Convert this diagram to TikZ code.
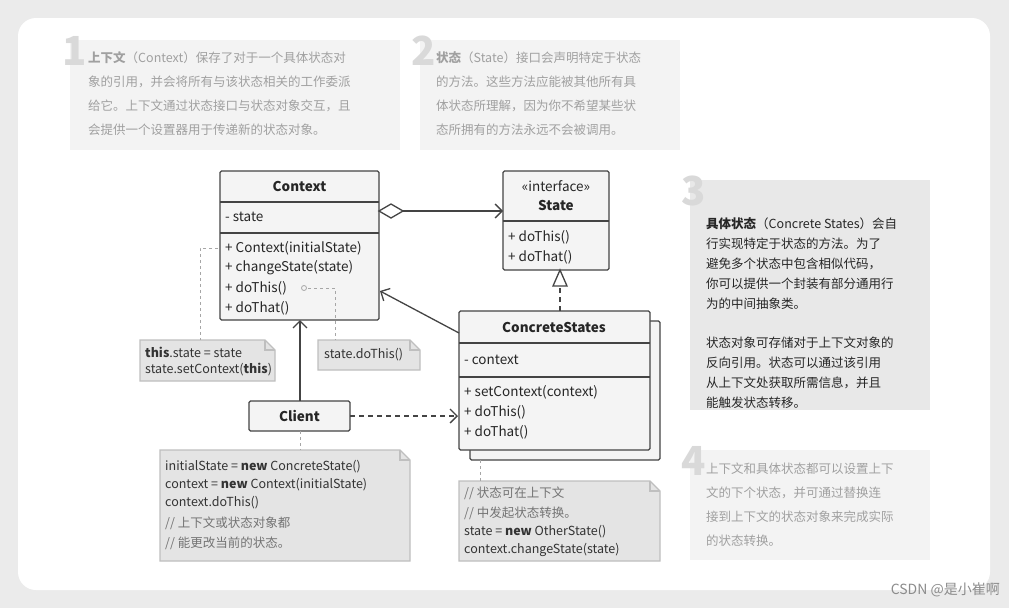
\documentclass[tikz,border=0pt]{standalone}
\usepackage{fontspec}
\setmainfont{Noto Sans CJK SC}
\usetikzlibrary{arrows.meta}
\definecolor{ln}{HTML}{444444}
\definecolor{boxf}{HTML}{F4F4F4}
\definecolor{notef}{HTML}{E4E4E4}
\definecolor{pan}{HTML}{F3F3F3}
\definecolor{pan3}{HTML}{E8E8E8}
\definecolor{gtx}{HTML}{A0A0A0}
\tikzset{
 umlbox/.style={draw=ln,line width=1.3pt,fill=boxf,rounded corners=1.5pt},
 sep/.style={draw=ln,line width=1.3pt},
 txt/.style={anchor=west,inner sep=0pt,font=\fontsize{13.5}{15}\selectfont,text=black!85},
 ttl/.style={anchor=center,inner sep=0pt,font=\fontsize{13.5}{15}\selectfont\bfseries,text=black!85},
 ptxt/.style={anchor=north west,inner sep=0pt,align=left,font=\fontsize{12.5}{24}\selectfont},
 num/.style={anchor=north west,inner sep=0pt,font=\fontsize{40}{40}\selectfont\bfseries,text=black!15},
 conn/.style={draw=ln,line width=1.3pt},
 dconn/.style={draw=black!35,line width=1pt,dash pattern=on 3pt off 3pt},
 note/.style={draw=black!25,line width=1.2pt,fill=notef},
 ntxt/.style={anchor=west,inner sep=0pt,font=\fontsize{12.5}{14}\selectfont,text=black!80},
 otip/.style={-{Straight Barb[length=7pt,width=14pt,line width=1.3pt]}},
}
\newcommand{\notebox}[4]{% x1 y1 x2 y2
 \path[note] (#1,#2) -- (#3-10,#2) -- (#3,#2+10) -- (#3,#4) -- (#1,#4) -- cycle;
 \draw[draw=black!25,line width=1.2pt] (#3-10,#2) -- (#3-10,#2+10) -- (#3,#2+10);}
\begin{document}
\begin{tikzpicture}[x=1pt,y=-1pt]
\fill[black!8] (0,0) rectangle (1009,608);
\useasboundingbox (0,0) rectangle (1009,608);
\fill[white,rounded corners=18pt] (18,18) rectangle (990,590);
% panels
\fill[pan] (70,40) rectangle (400,150);
\node[num] (n1) at (62,36) {1};
\node[ptxt,text=gtx] (p1) at (88,51) {\textbf{上下文}（Context）保存了对于一个具体状态对\\象的引用，并会将所有与该状态相关的工作委派\\给它。上下文通过状态接口与状态对象交互，且\\会提供一个设置器用于传递新的状态对象。};
\fill[pan] (420,40) rectangle (680,150);
\node[num] (n2) at (411,36) {2};
\node[ptxt,text=gtx] (p2) at (436,51) {\textbf{状态}（State）接口会声明特定于状态\\的方法。这些方法应能被其他所有具\\体状态所理解，因为你不希望某些状\\态所拥有的方法永远不会被调用。};
\fill[pan3] (690,180) rectangle (930,410);
\node[num] (n3) at (681,176) {3};
\node[ptxt,text=black!85,font=\fontsize{12.5}{20}\selectfont] (p3) at (706,217) {\textbf{具体状态}（Concrete States）会自\\行实现特定于状态的方法。为了\\避免多个状态中包含相似代码，\\你可以提供一个封装有部分通用行\\为的中间抽象类。\\[19pt]状态对象可存储对于上下文对象的\\反向引用。状态可以通过该引用\\从上下文处获取所需信息，并且\\能触发状态转移。};
\fill[pan] (690,450) rectangle (930,560);
\node[num] (n4) at (681,446) {4};
\node[ptxt,text=gtx] (p4) at (706,463) {上下文和具体状态都可以设置上下\\文的下个状态，并可通过替换连\\接到上下文的状态对象来完成实际\\的状态转换。};
% Context
\path[umlbox] (220,171) rectangle (379,320);
\draw[sep] (220,202) -- (379,202) (220,233) -- (379,233);
\node[ttl] (ctx) at (299.5,186) {Context};
\node[txt] at (225,217) {- state};
\node[txt] (cm1) at (225,248) {+ Context(initialState)};
\node[txt] at (225,268) {+ changeState(state)};
\node[txt] (cm3) at (225,288) {+ doThis()};
\node[txt] at (225,308) {+ doThat()};
\coordinate (ctxR) at (379,211);
\coordinate (ctxB) at (300,320);
\coordinate (ctxR2) at (380,291);
% State
\path[umlbox] (503,171) rectangle (609,270);
\draw[sep] (503,221) -- (609,221);
\node[txt,anchor=center] (st0) at (556,186) {«interface»};
\node[ttl] (st) at (556,205) {State};
\node[txt] at (508,237) {+ doThis()};
\node[txt] at (508,257) {+ doThat()};
\coordinate (stL) at (503,211);
\coordinate (stB) at (560,270);
% ConcreteStates
\path[umlbox] (470,321) rectangle (660,460);
\path[umlbox] (459,311) rectangle (650,450);
\draw[sep] (459,343) -- (650,343) (459,377) -- (650,377);
\node[ttl] (cs) at (554,327) {ConcreteStates};
\node[txt] at (464,360) {- context};
\node[txt] at (464,392) {+ setContext(context)};
\node[txt] at (464,412) {+ doThis()};
\node[txt] at (464,432) {+ doThat()};
\coordinate (csT) at (560,311);
\coordinate (csL) at (459,333);
\coordinate (csL2) at (458,416);
\coordinate (csB) at (480,460);
% Client
\path[umlbox] (249,401) rectangle (350,431);
\node[ttl] (cl) at (299.5,416) {Client};
\coordinate (clT) at (300,401);
\coordinate (clR) at (350,416);
\coordinate (clB) at (300,431);
% connectors
\draw[conn,otip] (ctxR) ++(24,0) -- (stL);
\draw[conn,fill=white] (ctxR) -- ++(12,-7) -- ++(12,7) -- ++(-12,7) -- cycle;
\draw[conn,dash pattern=on 5pt off 4pt] (csT) -- (560,286);
\draw[conn,fill=white] (stB) -- (553,286) -- (567,286) -- cycle;
\draw[conn,otip] (csL) -- (ctxR2);
\draw[conn,otip] (clT) -- (ctxB);
\draw[conn,otip,dash pattern=on 5pt off 4pt] (clR) -- (csL2);
% notes
\notebox{140}{340}{275}{381}
\node[ntxt] (nt1) at (145,352) {\textbf{this}.state = state};
\node[ntxt] at (145,370) {state.setContext(\textbf{this})};
\notebox{318}{340}{420}{370}
\node[ntxt] (nt2) at (324,355) {state.doThis()};
\notebox{160}{450}{410}{561}
\node[ntxt] (nt3) at (165,467) {initialState = \textbf{new} ConcreteState()};
\node[ntxt] at (165,485) {context = \textbf{new} Context(initialState)};
\node[ntxt] at (165,503) {context.doThis()};
\node[ntxt,text=black!55] at (165,523) {// 上下文或状态对象都};
\node[ntxt,text=black!55] at (165,543) {// 能更改当前的状态。};
\notebox{459}{481}{660}{561}
\node[ntxt,text=black!55] (nt4) at (464,493) {// 状态可在上下文};
\node[ntxt,text=black!55] at (464,513) {// 中发起状态转换。};
\node[ntxt] at (464,532) {state = \textbf{new} OtherState()};
\node[ntxt] at (464,550) {context.changeState(state)};
% dashed note links
\draw[dconn] (218,248) -- (200,248) -- (200,340);
\draw[black!35,line width=0.8pt] (304,288) circle (2.5pt);
\draw[dconn] (308,288) -- (335,288) -- (335,340);
\draw[dconn] (clB) -- (300,450);
\draw[dconn] (csB) -- (480,481);
\node[anchor=east,inner sep=0pt,font=\fontsize{14}{15}\selectfont,text=black!45] (wm) at (1000,590) {CSDN @是小崔啊};
\end{tikzpicture}
\end{document}
